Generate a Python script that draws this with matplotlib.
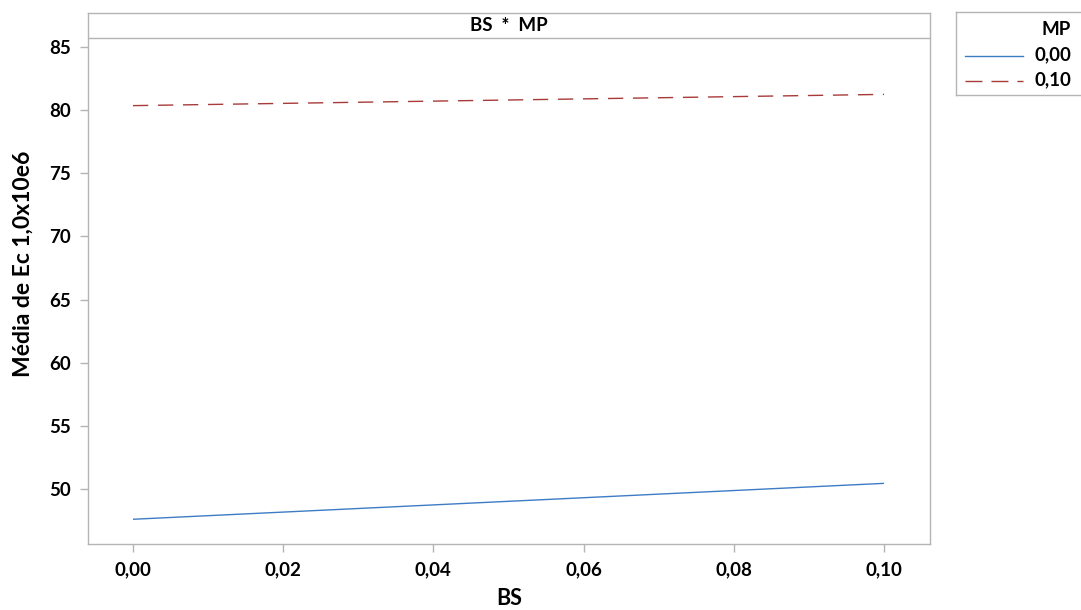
import matplotlib
matplotlib.use("Agg")
import matplotlib.pyplot as plt
from matplotlib.lines import Line2D

# Interaction plot data: mean Ec (x1.0e6) against BS for each MP level
bs = [0.00, 0.10]
mp_levels = ["0,00", "0,10"]
ec_mp000 = [47.63, 50.47]
ec_mp010 = [80.34, 81.23]
y_ticks = [50, 55, 60, 65, 70, 75, 80, 85]
x_ticks = [0.00, 0.02, 0.04, 0.06, 0.08, 0.10]

plt.rcParams['font.family'] = ['Lato', 'DejaVu Sans']
plt.rcParams['font.weight'] = 'bold'

W, H = 1081, 610
fig = plt.figure(figsize=(W / 100, H / 100), dpi=100)

def rect(x0, y0, x1, y1):
    return [x0 / W, 1 - y1 / H, (x1 - x0) / W, (y1 - y0) / H]

grey = '#b4b4b4'
blue = '#3d7cc4'
red = '#a83a3a'

ax = fig.add_axes(rect(87.5, 12.7, 930, 544.3))
px_per_unit = (489.3 - 46.7) / 35.0
y_top = 85 + (46.7 - 12.7) / px_per_unit
y_bot = 50 - (544.3 - 489.3) / px_per_unit
x_per_px = 0.10 / (884 - 133)
ax.set_xlim(0 - (133 - 87.5) * x_per_px, 0.10 + (930 - 884) * x_per_px)
ax.set_ylim(y_bot, y_top)

ax.plot(bs, ec_mp000, color=blue, lw=1.0, solid_capstyle='butt')
ax.plot(bs, ec_mp010, color=red, lw=1.0, linestyle=(0, (11, 7)))

# strip header
strip_y = 85 + (46.7 - 38.3) / px_per_unit
ax.axhline(strip_y, color=grey, lw=1.0)
ax.text(0.5, (y_top + strip_y) / 2, "BS  *  MP", transform=ax.get_yaxis_transform(),
        ha='center', va='center', fontsize=13.5, fontweight='bold')

for s in ax.spines.values():
    s.set_color(grey)
    s.set_linewidth(1.0)

ax.set_yticks(y_ticks)
ax.set_yticklabels([str(v) for v in y_ticks])
ax.set_xticks(x_ticks)
ax.set_xticklabels([f"{v:.2f}".replace('.', ',') for v in x_ticks])
ax.tick_params(axis='both', colors=grey, labelcolor='black', labelsize=13.5,
               length=6, width=1.0, pad=6)
for lab in ax.get_xticklabels() + ax.get_yticklabels():
    lab.set_fontweight('bold')

ax.set_xlabel("BS", fontsize=15.5, fontweight='bold', va='top')
ax.xaxis.set_label_coords(0.5, -0.083)
ax.set_ylabel("Média de Ec 1,0x10e6", fontsize=16.5, fontweight='bold')
ax.yaxis.set_label_coords(-0.064, 0.527)

# legend box
lax = fig.add_axes(rect(955.7, 12.3, 1085, 95))
lax.set_xlim(955.7, 1085)
lax.set_ylim(95, 12.3)
lax.set_xticks([])
lax.set_yticks([])
for s in lax.spines.values():
    s.set_color(grey)
    s.set_linewidth(1.0)
lax.spines['right'].set_visible(False)
lax.text(1071, 29, "MP", ha='right', va='center', fontsize=13.5, fontweight='bold')
for yy, col, ls, lab in [(55, blue, '-', mp_levels[0]), (80, red, (0, (12.2, 6.5)), mp_levels[1])]:
    lax.add_line(Line2D([965, 1023], [yy + 1, yy + 1], color=col, lw=1.0, linestyle=ls))
    lax.text(1071, yy, lab, ha='right', va='center', fontsize=13.5, fontweight='bold')

fig.savefig("out.png", dpi=100)
